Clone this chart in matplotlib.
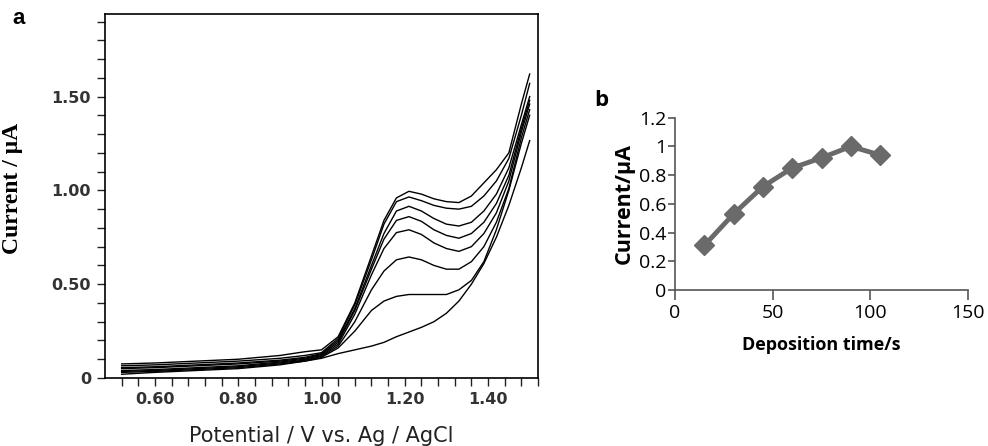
import matplotlib
matplotlib.use("Agg")
import numpy as np
from matplotlib import pyplot as plt
from matplotlib.ticker import MultipleLocator, FixedLocator, FixedFormatter

# --- panel a: voltammograms, potential (V) vs current (uA) ---
potential = [0.52, 0.60, 0.70, 0.80, 0.90, 0.96, 1.00, 1.04, 1.08, 1.12, 1.15,
             1.18, 1.21, 1.24, 1.27, 1.30, 1.33, 1.36, 1.39, 1.42, 1.45, 1.48, 1.50]

current_1 = [0.020, 0.030, 0.040, 0.050, 0.070, 0.090, 0.105, 0.130, 0.150, 0.170, 0.190,
             0.220, 0.245, 0.270, 0.300, 0.345, 0.410, 0.500, 0.610, 0.750, 0.920, 1.120, 1.265]
current_2 = [0.030, 0.035, 0.045, 0.055, 0.075, 0.090, 0.110, 0.160, 0.250, 0.360, 0.410,
             0.435, 0.445, 0.445, 0.445, 0.445, 0.470, 0.520, 0.620, 0.790, 1.000, 1.250, 1.400]
current_3 = [0.035, 0.040, 0.050, 0.060, 0.080, 0.095, 0.115, 0.170, 0.300, 0.470, 0.570,
             0.630, 0.645, 0.630, 0.600, 0.580, 0.580, 0.620, 0.700, 0.830, 1.010, 1.280, 1.430]
current_4 = [0.040, 0.045, 0.055, 0.065, 0.085, 0.100, 0.120, 0.180, 0.340, 0.550, 0.690,
             0.775, 0.790, 0.765, 0.720, 0.690, 0.675, 0.700, 0.770, 0.880, 1.050, 1.310, 1.460]
current_5 = [0.050, 0.055, 0.065, 0.075, 0.090, 0.105, 0.125, 0.190, 0.360, 0.580, 0.740,
             0.840, 0.860, 0.835, 0.790, 0.760, 0.745, 0.770, 0.830, 0.930, 1.080, 1.330, 1.480]
current_6 = [0.055, 0.060, 0.070, 0.080, 0.095, 0.110, 0.130, 0.200, 0.370, 0.600, 0.770,
             0.890, 0.915, 0.890, 0.850, 0.820, 0.810, 0.830, 0.890, 0.980, 1.120, 1.350, 1.500]
current_7 = [0.065, 0.070, 0.080, 0.090, 0.105, 0.120, 0.135, 0.210, 0.390, 0.630, 0.820,
             0.940, 0.965, 0.945, 0.920, 0.905, 0.900, 0.915, 0.970, 1.050, 1.170, 1.400, 1.570]
current_8 = [0.075, 0.080, 0.090, 0.100, 0.120, 0.140, 0.150, 0.220, 0.400, 0.650, 0.840,
             0.960, 0.995, 0.980, 0.955, 0.940, 0.935, 0.970, 1.040, 1.110, 1.200, 1.460, 1.620]
curves_a = [current_1, current_2, current_3, current_4, current_5, current_6, current_7, current_8]

x_tick_labels_a = ["0.60", "0.80", "1.00", "1.20", "1.40"]
y_tick_labels_a = ["0", "0.50", "1.00", "1.50"]

# --- panel b: peak current vs deposition time ---
deposition_time = [15, 30, 45, 60, 75, 90, 105]
peak_current = [0.31, 0.53, 0.72, 0.85, 0.92, 1.00, 0.94]

fig = plt.figure(figsize=(9.88, 4.46), dpi=100)

ax_a = fig.add_axes([105 / 988, 68 / 446, 433 / 988, 364 / 446])
for cur in curves_a:
    ax_a.plot(potential, cur, color="black", lw=1.0)
ax_a.set_xlim(0.48, 1.52)
ax_a.set_ylim(0, 1.94)
ax_a.xaxis.set_major_locator(FixedLocator([0.60, 0.80, 1.00, 1.20, 1.40]))
ax_a.xaxis.set_major_formatter(FixedFormatter(x_tick_labels_a))
ax_a.xaxis.set_minor_locator(FixedLocator(np.arange(0.52, 1.53, 0.04)))
ax_a.yaxis.set_major_locator(FixedLocator([0, 0.5, 1.0, 1.5]))
ax_a.yaxis.set_major_formatter(FixedFormatter(y_tick_labels_a))
ax_a.yaxis.set_minor_locator(MultipleLocator(0.1))
ax_a.tick_params(which="both", direction="out", length=6, width=1.0, color="#222222")
ax_a.tick_params(axis="both", which="major", labelsize=11.5, labelcolor="#333333", pad=4)
for lab in ax_a.get_xticklabels() + ax_a.get_yticklabels():
    lab.set_fontweight("bold")
for sp in ax_a.spines.values():
    sp.set_linewidth(1.2)
ax_a.set_xlabel("Potential / V vs. Ag / AgCl", fontsize=15, color="#222222", labelpad=14)
ax_a.set_ylabel("Current / \u03bcA", fontsize=17, fontweight="bold",
                family=["Liberation Serif", "DejaVu Serif"])
ax_a.yaxis.set_label_coords(-0.19, 0.52)
fig.text(12 / 988, 1 - 19 / 446, "a", fontsize=16, fontweight="bold",
         family="Liberation Sans", va="center", ha="left")

ax_b = fig.add_axes([675 / 988, 156 / 446, 293 / 988, 172.3 / 446])
ax_b.plot(deposition_time, peak_current, color="#6a6a6a", lw=3.5, marker="D",
          markersize=10, markerfacecolor="#6a6a6a", markeredgecolor="#6a6a6a")
ax_b.set_xlim(0, 150)
ax_b.set_ylim(0, 1.2)
ax_b.set_xticks([0, 50, 100, 150])
ax_b.set_xticklabels(["0", "50", "100", "150"])
ax_b.set_yticks([0, 0.2, 0.4, 0.6, 0.8, 1.0, 1.2])
ax_b.set_yticklabels(["0", "0.2", "0.4", "0.6", "0.8", "1", "1.2"])
ax_b.spines["top"].set_visible(False)
ax_b.spines["right"].set_visible(False)
for sp in ("left", "bottom"):
    ax_b.spines[sp].set_color("#555555")
    ax_b.spines[sp].set_linewidth(1.2)
ax_b.tick_params(direction="out", width=1.2, color="#555555", labelsize=14)
ax_b.tick_params(axis="x", length=7, pad=3)
ax_b.tick_params(axis="y", length=5, pad=1)
for lab in ax_b.get_xticklabels() + ax_b.get_yticklabels():
    lab.set_family("Open Sans")
ax_b.set_xlabel("Deposition time/s", fontsize=13, fontweight="bold",
                family="Open Sans", labelpad=10)
ax_b.set_ylabel("Current/\u03bcA", fontsize=15.5, fontweight="bold",
                family="Open Sans", labelpad=3)
fig.text(601 / 988, 1 - 101 / 446, "b", fontsize=16, fontweight="bold",
         family="Open Sans", va="center", ha="center")

fig.savefig("out.png", dpi=100)
